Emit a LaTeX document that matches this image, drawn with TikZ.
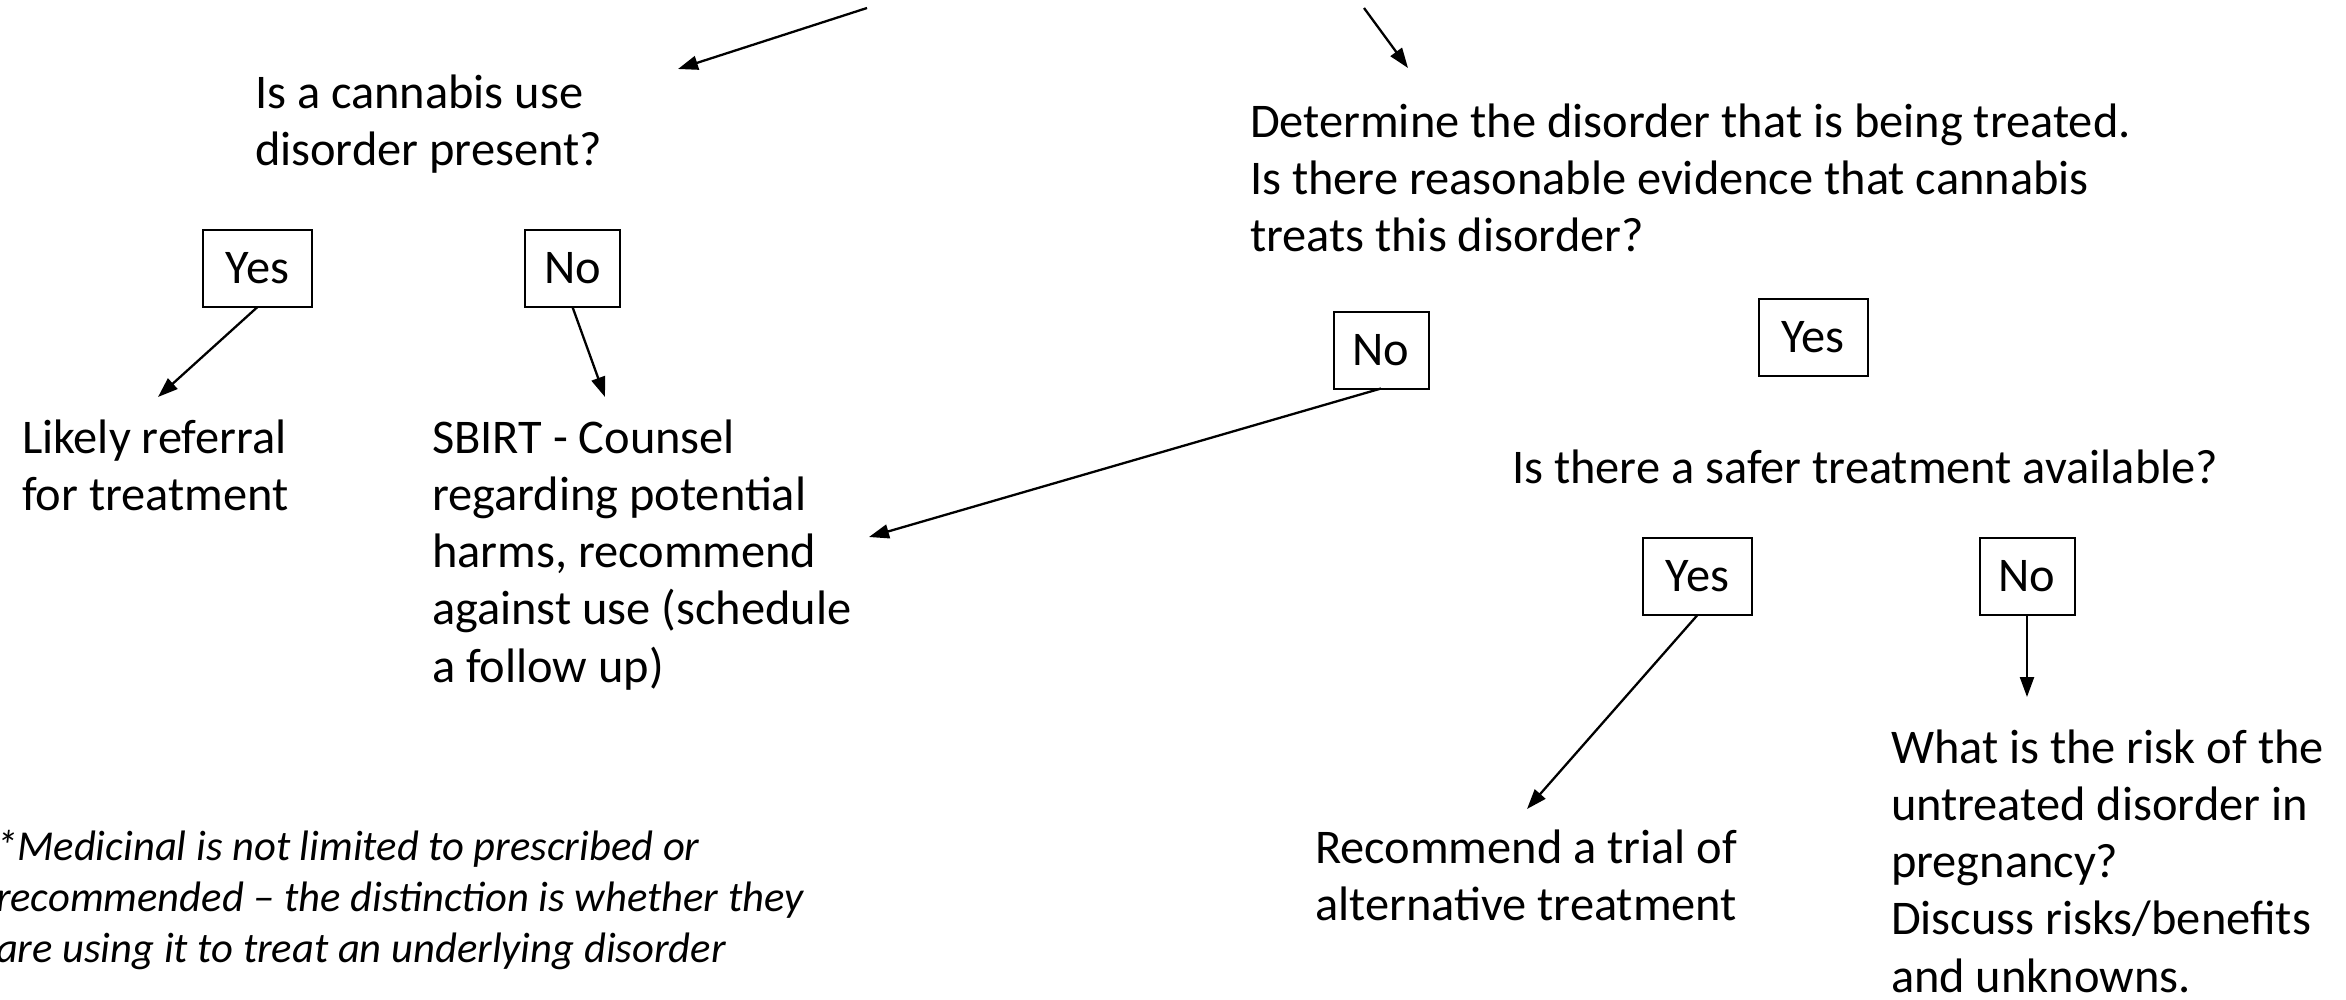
\documentclass[tikz,border=0pt]{standalone}
\usepackage{fontspec}
\setmainfont{Carlito}
\usetikzlibrary{arrows.meta}
\begin{document}
\begin{tikzpicture}[x=1pt,y=-1pt,
  every node/.style={inner sep=0pt, outer sep=0pt},
  txt/.style={anchor=north west, align=left, font=\fontsize{48.4}{57.3}\selectfont},
  note/.style={anchor=north west, align=left, font=\fontsize{42.6}{51}\selectfont\itshape},
  ans/.style={draw, line width=2pt, minimum height=77pt, font=\fontsize{48.4}{57.3}\selectfont},
  yesbox/.style={ans, minimum width=109pt},
  nobox/.style={ans, minimum width=95pt},
  arr/.style={line width=2.3pt, -{Triangle[length=20pt,width=14pt]}}]
\useasboundingbox (0,0) rectangle (2346,999);

% text blocks
\node[txt] (q1) at (255,67.9) {\strut Is a cannabis use\\disorder present?};
\node[txt] (likely) at (22,412.9) {\strut Likely referral\\for treatment};
\node[txt] (sbirt) at (432,412.9) {\strut SBIRT - Counsel\\regarding potential\\harms, recommend\\against use (schedule\\a follow up)};
\node[txt] (det) at (1250,96.9) {\strut Determine the disorder that is being treated.\\Is there reasonable evidence that cannabis\\treats this disorder?};
\node[txt] (safer) at (1512,442.9) {\strut Is there a safer treatment available?};
\node[txt] (recom) at (1315,822.9) {\strut Recommend a trial of\\alternative treatment};
\node[txt] (risk) at (1891,722.9) {\strut What is the risk of the\\untreated disorder in\\pregnancy?\\Discuss risks/benefits\\and unknowns.};
\node[note] (foot) at (-4,824.3) {\strut *Medicinal is not limited to prescribed or\\recommended -- the distinction is whether they\\are using it to treat an underlying disorder};

% answer boxes
\node[yesbox] (yes1) at (257.5,268.5) {Yes};
\node[nobox] (no1) at (572.5,268.5) {No};
\node[nobox] (noR) at (1381,350) {No};
\node[yesbox] (yesR) at (1813,337) {Yes};
\node[yesbox] (yes2) at (1697.5,576.5) {Yes};
\node[nobox] (no2) at (2027,576.5) {No};

% connector ends
\coordinate (topL) at (867,8);
\coordinate (tipL) at (678,69);
\coordinate (topR) at (1364,8);
\coordinate (tipR) at (1408,68);
\coordinate (tipYes1) at (158,397);
\coordinate (tipNo1) at (605,397);
\coordinate (tipNoR) at (869,537);
\coordinate (tipYes2) at (1527,809);
\coordinate (tipNo2) at (2027,697);

% connectors
\draw[arr] (topL) -- (tipL);
\draw[arr] (topR) -- (tipR);
\draw[arr] (yes1.south) -- (tipYes1);
\draw[arr] (no1.south) -- (tipNo1);
\draw[arr] (noR.south) -- (tipNoR);
\draw[arr] (yes2.south) -- (tipYes2);
\draw[arr] (no2.south) -- (tipNo2);
\end{tikzpicture}
\end{document}
